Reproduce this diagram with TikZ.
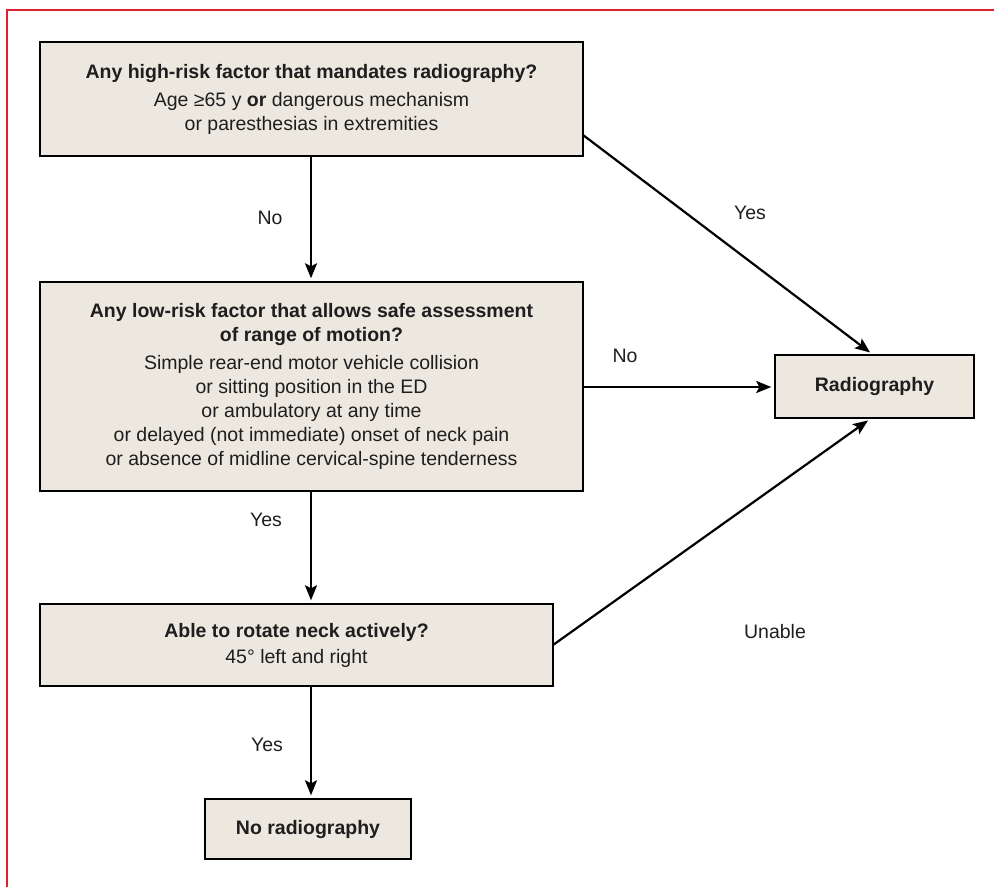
\documentclass[tikz,border=0pt]{standalone}
\usepackage{fontspec}
\setmainfont{Liberation Sans}
\usetikzlibrary{arrows.meta}
\definecolor{boxfill}{HTML}{ECE8DF}
\definecolor{framered}{HTML}{E0202E}
\definecolor{txt}{HTML}{1E1E1E}
\begin{document}
\begin{tikzpicture}[x=1pt,y=-1pt,
  box/.style={draw=black, line width=1.4pt, fill=boxfill, text=txt, align=center, inner sep=0pt,
    font=\fontsize{19.5}{24}\selectfont},
  arr/.style={line width=2.2pt, -{Stealth[length=15pt,width=12pt,inset=3pt]}, shorten >=3pt},
  lbl/.style={text=txt, font=\fontsize{19.5}{22}\selectfont, inner sep=0pt}]
\useasboundingbox (0,0) rectangle (994,887);
\draw[framered, line width=1.5pt] (7,887) -- (7,10) -- (994,10);

\node[box, minimum width=543pt, minimum height=114pt] (b1) at (311.5,99)
  {\textbf{Any high-risk factor that mandates radiography?}\\[4pt]
   Age ≥65 y \textbf{or} dangerous mechanism\\
   or paresthesias in extremities};
\node[box, minimum width=543pt, minimum height=209pt] (b2) at (311.5,386.5)
  {\textbf{Any low-risk factor that allows safe assessment}\\
   \textbf{of range of motion?}\\[4pt]
   Simple rear-end motor vehicle collision\\
   or sitting position in the ED\\
   or ambulatory at any time\\
   or delayed (not immediate) onset of neck pain\\
   or absence of midline cervical-spine tenderness};
\node[box, minimum width=513pt, minimum height=82pt] (b3) at (296.5,645)
  {\textbf{Able to rotate neck actively?}\\[2pt]
   45° left and right};
\node[box, minimum width=206pt, minimum height=60pt] (b4) at (308,829)
  {\textbf{No radiography}};
\node[box, minimum width=199pt, minimum height=63pt] (rad) at (874.5,386.5)
  {\textbf{Radiography}};

\coordinate (b1s) at (311,156);
\coordinate (b2s) at (311,491);
\coordinate (b3s) at (311,686);
\coordinate (b2e) at (583,387);
\coordinate (b1e) at (583,135);
\coordinate (b3e) at (553,645);

\draw[arr] (b1s) -- (b1s |- b2.north);
\draw[arr] (b2s) -- (b2s |- b3.north);
\draw[arr] (b3s) -- (b3s |- b4.north);
\draw[arr] (b2e) -- (b2e -| rad.west);
\draw[arr] (b1e) -- ([xshift=-2pt]rad.north);
\draw[arr] (b3e) -- ([xshift=-4pt]rad.south);

\node[lbl] (l1) at (270,218) {No};
\node[lbl] (l2) at (750,213) {Yes};
\node[lbl] (l3) at (625,356) {No};
\node[lbl] (l4) at (266,520) {Yes};
\node[lbl] (l5) at (775,632) {Unable};
\node[lbl] (l6) at (267,745) {Yes};
\end{tikzpicture}
\end{document}
